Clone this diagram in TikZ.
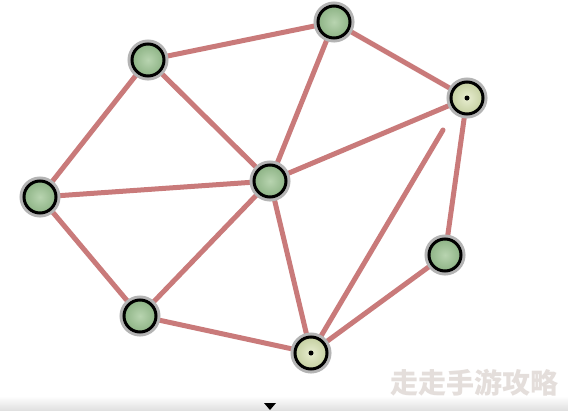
\documentclass[tikz,border=0pt]{standalone}
\usepackage{fontspec}
\newfontfamily\cjk{Noto Sans CJK SC}
\usetikzlibrary{backgrounds}
\definecolor{edgec}{HTML}{C97A7A}
\definecolor{halo}{HTML}{B4B4B4}
\definecolor{gin}{HTML}{B8D4B0}
\definecolor{gout}{HTML}{8DB385}
\definecolor{bin}{HTML}{E8EDD0}
\definecolor{bout}{HTML}{C4CFA0}
\definecolor{wm}{HTML}{E4DEDB}
\tikzset{
  vtx/.style={circle, minimum size=32pt, inner sep=0pt, draw=black, line width=3pt,
    preaction={draw=halo, line width=9pt}},
  gvtx/.style={vtx, inner color=gin, outer color=gout},
  bvtx/.style={vtx, inner color=bin, outer color=bout},
  edge/.style={draw=edgec, line width=5pt},
}
\begin{document}
\begin{tikzpicture}[x=1pt,y=-1pt]
\useasboundingbox (0,0) rectangle (568,410);
\node[gvtx] (A) at (148,60) {};
\node[gvtx] (B) at (334,22) {};
\node[bvtx] (C) at (467,98) {};
\node[gvtx] (D) at (40,197) {};
\node[gvtx] (E) at (270,181) {};
\node[gvtx] (F) at (445,255) {};
\node[gvtx] (G) at (140,316) {};
\node[bvtx] (H) at (311,353) {};
\fill (C) circle (2.5pt);
\fill (H) circle (2.5pt);
\coordinate (T) at (443,130);
\begin{scope}[on background layer]
\fill[white] (0,0) rectangle (568,410);
\shade[top color=white, bottom color=black!12] (0,396) rectangle (568,410);
\draw[edge] (A) -- (B);
\draw[edge] (B) -- (C);
\draw[edge] (A) -- (D);
\draw[edge] (A) -- (E);
\draw[edge] (B) -- (E);
\draw[edge] (E) -- (C);
\draw[edge] (D) -- (E);
\draw[edge] (D) -- (G);
\draw[edge] (E) -- (G);
\draw[edge] (E) -- (H);
\draw[edge] (G) -- (H);
\draw[edge] (C) -- (F);
\draw[edge] (H) -- (F);
\draw[edge, line cap=round] (H) -- (T);
\end{scope}
\node[font=\cjk\bfseries\fontsize{28}{28}\selectfont, text=wm] (W) at (474,383) {走走手游攻略};
\fill (264,403) -- (276,403) -- (270,410) -- cycle;
\end{tikzpicture}
\end{document}
